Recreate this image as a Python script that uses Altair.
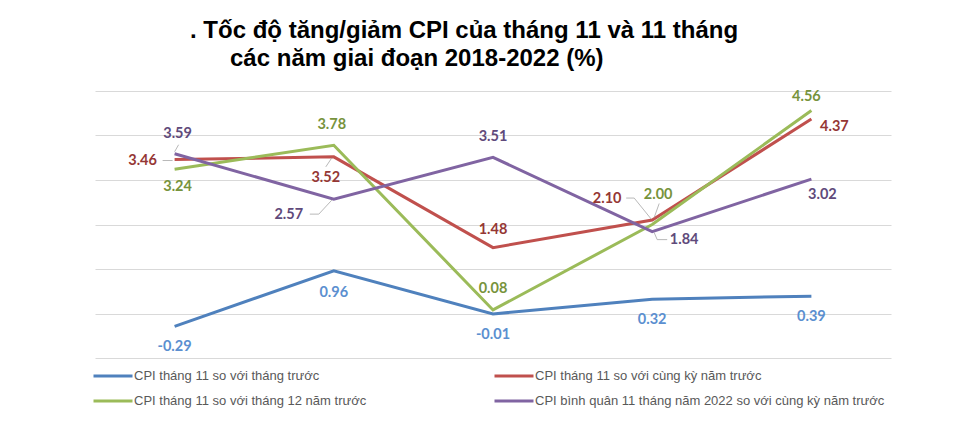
import altair as alt
import pandas as pd

years = ["2018", "2019", "2020", "2021", "2022"]
series_names = [
    "CPI tháng 11 so với tháng trước",
    "CPI tháng 11 so với cùng kỳ năm trước",
    "CPI tháng 11 so với tháng 12 năm trước",
    "CPI bình quân 11 tháng năm 2022 so với cùng kỳ năm trước",
]
cpi_mom = [-0.29, 0.96, -0.01, 0.32, 0.39]
cpi_yoy = [3.46, 3.52, 1.48, 2.10, 4.37]
cpi_ytd = [3.24, 3.78, 0.08, 2.00, 4.56]
cpi_avg = [3.59, 2.57, 3.51, 1.84, 3.02]

# ---- styling ----
W, H = 796, 267
Y_MIN, Y_MAX = -1, 5
PX_X = W / len(years)            # pixels per x unit
PX_Y = H / (Y_MAX - Y_MIN)       # pixels per y unit
line_colors = ["#4f81bd", "#c0504d", "#9bbb59", "#8064a2"]
label_colors = ["#5b8fd0", "#953735", "#77933c", "#604a7b"]
# label offsets in pixels (dx, dy) from each point
label_offsets = [
    [(0, 21), (0, 22), (0, 21), (0, 21), (0, 21)],
    [(-32, 1), (-8, 21), (0, -18), (-45, -21), (23, 8)],
    [(3, 18), (-2, -20), (0, -21), (6, -30), (-5, -14)],
    [(3, -20), (-45, 16), (0, -20), (32, 8), (11, 16)],
]
# leader line segments in pixels relative to a point: (series, year, [(x,y),...])
leaders = [
    (1, 0, [(-12, 1), (-2, 1)]),
    (3, 0, [(0, -2), (4, -9)]),
    (1, 1, [(-2, 1), (-8, 10)]),
    (3, 1, [(-24, 15), (-15, 15), (-2, 1)]),
    (1, 3, [(-26, -22), (-18, -22), (-1, -1)]),
    (2, 3, [(7, -21), (2, -7)]),
    (3, 3, [(2, 1), (5, 8), (15, 8)]),
]

all_series = [cpi_mom, cpi_yoy, cpi_ytd, cpi_avg]
rows = []
for si, vals in enumerate(all_series):
    for yi, v in enumerate(vals):
        dx, dy = label_offsets[si][yi]
        rows.append({
            "xi": yi,
            "year": years[yi],
            "series": series_names[si],
            "order": si,
            "value": v,
            "label": f"{v:.2f}",
            "lcolor": label_colors[si],
            "lx": yi + dx / PX_X,
            "ly": v - dy / PX_Y,
        })
df = pd.DataFrame(rows)

seg_rows = []
for si, yi, pts in leaders:
    v = all_series[si][yi]
    for (ax, ay), (bx, by) in zip(pts[:-1], pts[1:]):
        seg_rows.append({
            "x1": yi + ax / PX_X, "y1": v - ay / PX_Y,
            "x2": yi + bx / PX_X, "y2": v - by / PX_Y,
        })
seg_df = pd.DataFrame(seg_rows)

x_scale = alt.Scale(domain=[-0.5, len(years) - 0.5], nice=False, zero=False)
y_scale = alt.Scale(domain=[Y_MIN, Y_MAX], nice=False, zero=False)
y_axis = alt.Axis(values=list(range(Y_MIN, Y_MAX + 1)), labels=False, ticks=False,
                  domain=False, grid=True, gridColor="#d9d9d9", gridWidth=1.2,
                  title=None)

lines = alt.Chart(df).mark_line(strokeWidth=3).encode(
    x=alt.X("xi:Q", scale=x_scale, axis=None),
    y=alt.Y("value:Q", scale=y_scale, axis=y_axis),
    color=alt.Color(
        "series:N",
        scale=alt.Scale(domain=series_names, range=line_colors),
        legend=alt.Legend(
            orient="none", legendX=10, legendY=277, columns=2, direction="horizontal",
            columnPadding=121, rowPadding=10, title=None,
            symbolType="M-3,0H3", symbolSize=169, symbolStrokeWidth=3,
            labelFont="Liberation Sans", labelFontSize=13, labelColor="#595959",
            labelOffset=13, labelLimit=500,
        ),
    ),
    order="order:Q",
)

leader_lines = alt.Chart(seg_df).mark_rule(color="#a6a6a6", strokeWidth=0.8).encode(
    x=alt.X("x1:Q", scale=x_scale, axis=None),
    y=alt.Y("y1:Q", scale=y_scale, axis=y_axis),
    x2="x2:Q",
    y2="y2:Q",
)

labels = alt.Chart(df).mark_text(
    font="Lato", fontSize=14.5, fontWeight="bold", align="center", baseline="middle"
).encode(
    x=alt.X("lx:Q", scale=x_scale, axis=None),
    y=alt.Y("ly:Q", scale=y_scale, axis=y_axis),
    text="label:N",
    color=alt.Color("lcolor:N", scale=None),
)

chart = alt.layer(lines, leader_lines, labels).properties(
    width=W,
    height=H,
    autosize=alt.AutoSizeParams(type="none"),
    padding={"left": 87, "top": 83, "right": 70, "bottom": 55},
    title=alt.TitleParams(
        text=[". Tốc độ tăng/giảm CPI của tháng 11 và 11 tháng",
              "\u200b" + "\u00a0" * 6 + "các năm giai đoạn 2018-2022 (%)"],
        anchor="start", dx=95, offset=18, fontSize=24, lineHeight=28,
        font="Liberation Sans", fontWeight="bold", color="#000000",
    ),
).configure(background="white").configure_view(stroke=None)

chart.save("out.html", embed_options={"renderer": "svg", "actions": False})
